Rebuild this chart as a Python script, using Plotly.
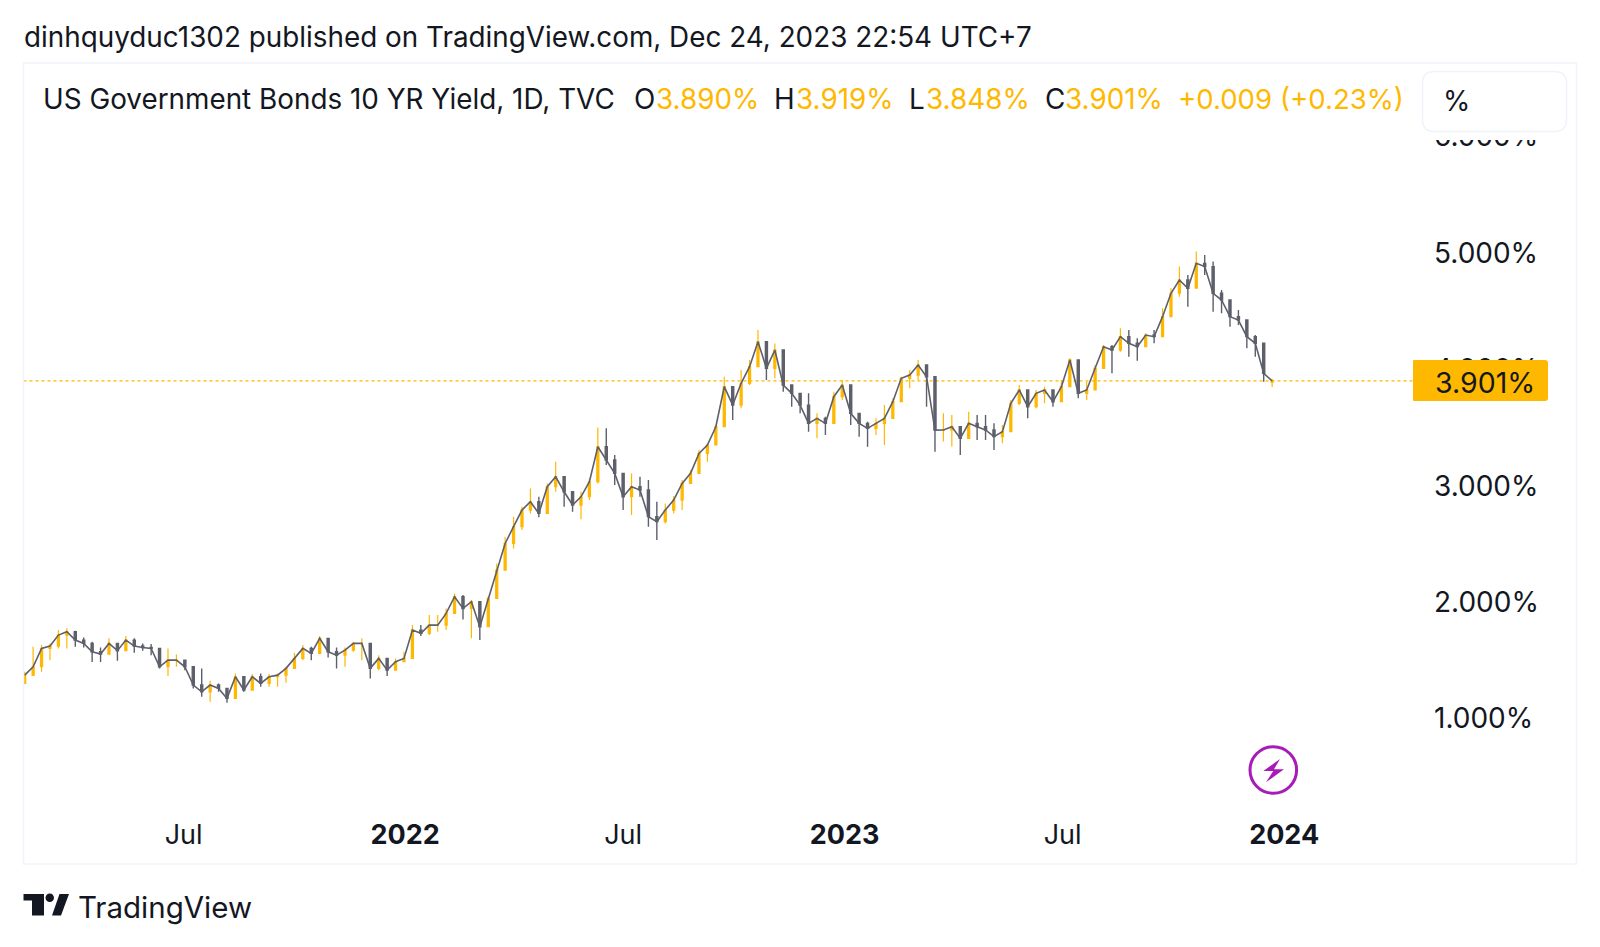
import pandas as pd
import plotly.graph_objects as go

START_DATE = "2021-02-19"
close_vals = [1.372,1.444,1.602,1.622,1.716,1.745,1.673,1.645,1.573,1.553,1.645,1.582,1.673,1.622,1.610,1.602,1.444,1.501,1.501,1.444,
1.287,1.229,1.287,1.258,1.172,1.358,1.244,1.358,1.301,1.358,1.372,1.430,1.516,1.602,1.559,1.688,1.573,1.544,1.587,1.645,
1.645,1.430,1.516,1.415,1.487,1.516,1.759,1.731,1.802,1.802,1.903,2.046,1.945,2.003,1.788,2.032,2.275,
2.504,2.648,2.791,2.862,2.762,2.991,3.077,2.948,2.834,2.905,3.034,3.335,3.221,3.106,2.905,2.991,2.963,2.734,2.691,2.791,2.877,3.020,3.106,
3.278,3.350,3.507,3.851,3.693,3.880,4.023,4.238,4.009,4.166,3.865,3.794,3.693,3.536,3.579,3.536,3.765,3.865,3.622,3.536,
3.493,3.536,3.579,3.722,3.923,3.951,4.037,3.937,3.478,
3.479,3.507,3.407,3.536,3.507,3.479,3.422,3.464,3.708,3.823,3.679,3.794,3.823,3.722,3.851,4.081,3.794,3.823,4.009,4.195,4.166,
4.281,4.224,4.195,4.295,4.281,4.453,4.654,4.768,4.697,4.911,4.883,4.654,4.596,4.453,4.424,4.281,4.224,3.966,3.901]
open_vals = [1.300,1.372,1.444,1.602,1.622,1.716,1.745,1.673,1.645,1.573,1.553,1.645,1.582,1.673,1.622,1.610,1.602,1.444,1.501,1.501,
1.444,1.287,1.229,1.287,1.258,1.172,1.358,1.244,1.358,1.301,1.358,1.372,1.430,1.516,1.602,1.559,1.688,1.573,1.544,1.587,
1.645,1.645,1.430,1.516,1.415,1.487,1.516,1.759,1.731,1.802,1.802,1.903,2.046,1.945,2.003,1.788,2.032,
2.275,2.504,2.648,2.791,2.862,2.762,2.991,3.077,2.948,2.834,2.905,3.034,3.335,3.221,3.106,2.905,2.991,2.963,2.734,2.691,2.791,2.877,3.020,
3.106,3.278,3.350,3.507,3.851,3.693,3.880,4.023,4.238,4.009,4.166,3.865,3.794,3.693,3.536,3.579,3.536,3.765,3.865,3.622,
3.536,3.493,3.536,3.579,3.722,3.923,3.951,4.037,3.937,
3.478,3.479,3.507,3.407,3.536,3.507,3.479,3.422,3.464,3.708,3.823,3.679,3.794,3.823,3.722,3.851,4.081,3.794,3.823,4.009,4.195,
4.166,4.281,4.224,4.195,4.295,4.281,4.453,4.654,4.768,4.697,4.911,4.883,4.654,4.596,4.453,4.424,4.281,4.224,3.890]
high_vals = [1.401,1.616,1.630,1.645,1.759,1.774,1.754,1.696,1.659,1.610,1.688,1.645,1.708,1.688,1.645,1.639,1.587,1.602,1.550,1.487,
1.430,1.430,1.324,1.301,1.229,1.387,1.315,1.381,1.387,1.381,1.387,1.444,1.565,1.630,1.616,1.708,1.688,1.610,1.610,1.659,
1.688,1.516,1.544,1.501,1.516,1.573,1.802,1.802,1.888,1.888,1.945,2.074,2.060,2.017,1.874,2.046,2.332,
2.562,2.734,2.819,2.977,2.905,3.020,3.206,3.020,2.877,2.948,3.063,3.501,3.493,3.264,3.049,3.106,3.077,3.049,2.862,2.848,2.911,3.049,3.135,
3.307,3.364,3.521,3.937,3.851,3.994,4.080,4.338,4.223,4.223,4.152,3.851,3.765,3.794,3.622,3.593,3.808,3.908,3.779,3.579,
3.550,3.579,3.693,3.751,3.937,3.994,4.080,4.023,3.650,
3.622,3.608,3.450,3.636,3.608,3.608,3.536,3.522,3.737,3.866,3.737,3.823,3.851,3.794,3.909,4.095,3.966,3.894,4.038,4.209,4.209,
4.353,4.338,4.267,4.310,4.338,4.525,4.697,4.883,4.811,5.012,4.983,4.926,4.682,4.596,4.510,4.353,4.295,4.224,3.919]
low_vals = [1.295,1.364,1.401,1.501,1.602,1.602,1.616,1.610,1.486,1.486,1.573,1.496,1.610,1.565,1.582,1.544,1.430,1.364,1.444,1.415,
1.258,1.186,1.143,1.229,1.135,1.172,1.229,1.258,1.272,1.272,1.272,1.307,1.467,1.501,1.501,1.616,1.524,1.430,1.444,1.573,
1.501,1.344,1.415,1.364,1.458,1.487,1.673,1.708,1.716,1.745,1.759,1.917,1.851,1.688,1.673,1.845,2.132,
2.390,2.461,2.619,2.762,2.728,2.819,2.948,2.819,2.776,2.711,2.877,3.020,3.178,3.006,2.791,2.748,2.905,2.648,2.533,2.676,2.762,2.791,3.020,
3.192,3.206,3.378,3.665,3.564,3.665,3.865,4.138,3.908,3.923,3.808,3.679,3.622,3.464,3.407,3.435,3.622,3.736,3.521,3.421,
3.335,3.435,3.350,3.579,3.751,3.837,3.908,3.679,3.292,
3.379,3.336,3.264,3.450,3.393,3.393,3.307,3.364,3.565,3.694,3.579,3.665,3.708,3.679,3.737,3.937,3.751,3.737,3.923,4.023,3.966,
4.152,4.109,4.075,4.209,4.224,4.338,4.510,4.625,4.539,4.826,4.811,4.496,4.482,4.367,4.381,4.181,4.109,3.894,3.848]
y_ticks = [1, 2, 3, 4, 5, 6]
y_labels = ["1.000%", "2.000%", "3.000%", "4.000%", "5.000%", "6.000%"]
x_ticks = ["2021-07-01", "2022-01-01", "2022-07-01", "2023-01-01", "2023-07-01", "2024-01-01"]
x_labels = ["Jul", "<b>2022</b>", "Jul", "<b>2023</b>", "Jul", "<b>2024</b>"]
LAST_PRICE = 3.901

W, H = 1600, 947
FONT = "Inter"
INK = "#131722"
ORANGE = "#ffb800"
GREY = "#5d606b"
BORDER = "#f0f3fa"
PURPLE = "#a71bb8"
PANE = dict(l=23.5, r=1413, t=63, b=815)

def px(x): return x / W
def py(y): return 1 - y / H

dates = pd.date_range(START_DATE, periods=len(close_vals), freq="7D")

fig = go.Figure()
fig.add_trace(go.Scatter(
    x=dates, y=close_vals, mode="lines", line=dict(color=GREY, width=1.6),
    showlegend=False, hoverinfo="skip",
))
fig.add_trace(go.Candlestick(
    x=dates, open=open_vals, high=high_vals, low=low_vals, close=close_vals,
    increasing=dict(line=dict(color=ORANGE, width=1.2), fillcolor=ORANGE),
    decreasing=dict(line=dict(color=GREY, width=1.4), fillcolor=GREY),
    whiskerwidth=0, showlegend=False, hoverinfo="skip",
))

def rect(x0, y0, x1, y1, **kw):
    return dict(type="rect", xref="paper", yref="paper", x0=px(x0), x1=px(x1),
                y0=py(y0), y1=py(y1), layer="above", **kw)

def path(points, **kw):
    d = "M " + " L ".join(f"{px(a):.5f},{py(b):.5f}" for a, b in points) + " Z"
    return dict(type="path", xref="paper", yref="paper", path=d, layer="above", **kw)

def rounded(x0, y0, x1, y1, rl, rr, **kw):
    a, b, c, d = px(x0), py(y0), px(x1), py(y1)
    rxl, ryl, rxr, ryr = rl / W, rl / H, rr / W, rr / H
    p = (f"M {a+rxl:.5f},{b:.5f} L {c-rxr:.5f},{b:.5f} Q {c:.5f},{b:.5f} {c:.5f},{b-ryr:.5f} "
         f"L {c:.5f},{d+ryr:.5f} Q {c:.5f},{d:.5f} {c-rxr:.5f},{d:.5f} L {a+rxl:.5f},{d:.5f} "
         f"Q {a:.5f},{d:.5f} {a:.5f},{d+ryl:.5f} L {a:.5f},{b-ryl:.5f} Q {a:.5f},{b:.5f} {a+rxl:.5f},{b:.5f} Z")
    return dict(type="path", xref="paper", yref="paper", path=p, layer="above", **kw)

shapes = [
    dict(type="line", xref="x domain", yref="y", x0=0, x1=1, y0=LAST_PRICE, y1=LAST_PRICE,
         line=dict(color=ORANGE, width=1.2, dash="dot"), layer="below"),
    rect(24.5, 64, 1575.5, 140, fillcolor="white", line=dict(width=0)),
    rounded(1422.5, 71.5, 1566.5, 131.5, 12, 12, fillcolor="white", line=dict(color=BORDER, width=1.5)),
    rect(23.5, 63, 1576.5, 864, line=dict(color=BORDER, width=1.5)),
    rounded(1413, 360, 1548, 401, 1, 3, fillcolor=ORANGE, line=dict(width=0)),
    dict(type="circle", xref="paper", yref="paper", x0=px(1250), x1=px(1296.6), y0=py(746.7), y1=py(793.3),
         line=dict(color=PURPLE, width=3), layer="above"),
    path([(1280, 759), (1263.3, 771), (1273.3, 771), (1266, 782.3), (1284, 769.3), (1274, 769.3)],
         fillcolor=PURPLE, line=dict(width=0)),
    # TradingView logo
    path([(23.5, 894), (44, 894), (44, 915.5), (32, 915.5), (32, 900.5), (23.5, 900.5)], fillcolor=INK, line=dict(width=0)),
    dict(type="circle", xref="paper", yref="paper", x0=px(45.5), x1=px(54), y0=py(893.5), y1=py(902),
         fillcolor=INK, line=dict(width=0), layer="above"),
    path([(59.5, 894), (69, 894), (61, 915.5), (52, 915.5)], fillcolor=INK, line=dict(width=0)),
]

def note(text, x, y, size=27.85, color=INK, anchor="left"):
    return dict(text=text, x=px(x), y=py(y), xref="paper", yref="paper", showarrow=False,
                xanchor=anchor, yanchor="middle", align=anchor,
                font=dict(family=FONT, size=size, color=color))

annotations = [
    note("dinhquyduc1302 published on TradingView.com, Dec 24, 2023 22:54 UTC+7", 21.5, 37),
    note("US Government Bonds 10 YR Yield, 1D, TVC", 40.5, 99),
    note("O", 631.5, 99), note("3.890%", 654, 99, color=ORANGE),
    note("H", 772, 99), note("3.919%", 794, 99, color=ORANGE),
    note("L", 906.5, 99), note("3.848%", 923.5, 99, color=ORANGE),
    note("C", 1043, 99), note("3.901%", 1063, 99, color=ORANGE),
    note("+0.009 (+0.23%)", 1176, 99, size=27.6, color=ORANGE),
    note("%", 1441, 101),
    note("3.901%", 1485, 382, size=28.5, anchor="center"),
    note("TradingView", 76, 907, size=29.5),
]

fig.update_layout(
    width=W, height=H, autosize=False, margin=dict(l=0, r=0, t=0, b=0, pad=0),
    paper_bgcolor="white", plot_bgcolor="white", boxgap=0.65,
    shapes=shapes, annotations=annotations, showlegend=False,
    font=dict(family=FONT, color=INK),
    xaxis=dict(domain=[px(PANE["l"]), px(PANE["r"])], type="date",
               range=["2021-02-18", "2024-04-17"], rangeslider=dict(visible=False),
               tickmode="array", tickvals=x_ticks, ticktext=x_labels, tickangle=0,
               tickfont=dict(family=FONT, size=27, color=INK), showgrid=False, zeroline=False,
               showline=False, ticks="", ticklabelstandoff=1),
    yaxis=dict(domain=[py(PANE["b"]), py(PANE["t"])], side="right", range=[0.170, 6.633],
               tickmode="array", tickvals=y_ticks, ticktext=y_labels,
               tickfont=dict(family=FONT, size=28, color=INK), showgrid=False, zeroline=False,
               showline=False, ticks="", ticklabelstandoff=20),
)

fig.write_html("out.html", config=dict(displayModeBar=False),
               post_script="document.body.style.margin='0';")
